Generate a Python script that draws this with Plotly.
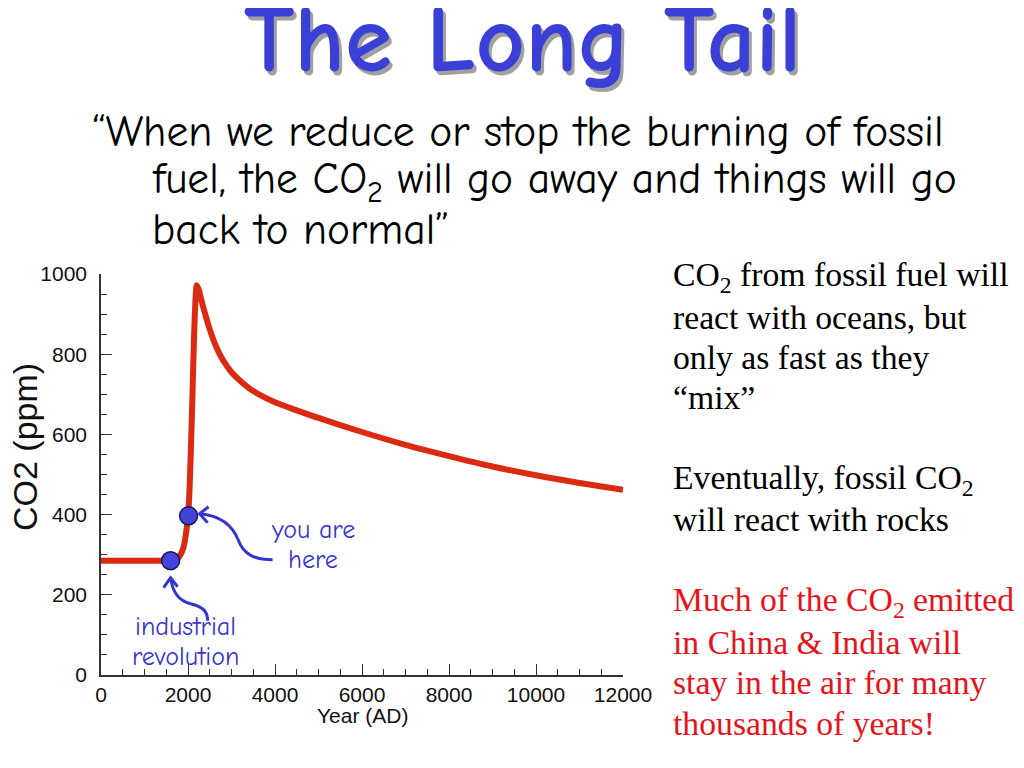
import plotly.graph_objects as go

# ---------------- data ----------------
years = [0, 500, 1000, 1500, 1600, 1700, 1750, 1800, 1850, 1900, 1950, 2000,
         2030, 2060, 2090, 2120, 2150, 2180, 2200, 2250, 2300, 2400,
         2500, 2650, 2800, 3000, 3250, 3500, 4000, 4500, 5000, 6000, 7000,
         8000, 9000, 10000, 11000, 12000]
co2 = [285, 285, 285, 285, 285, 287, 290, 295, 305, 320, 350, 395,
       450, 540, 650, 770, 880, 950, 972, 960, 938, 898,
       862, 818, 786, 755, 729, 708, 680, 660, 641, 606, 574,
       546, 520, 498, 479, 462]

event_years = [1600, 2013]
event_co2 = [285, 397]
event_labels = [["industrial", "revolution"], ["you are", "here"]]

x_ticks = [0, 2000, 4000, 6000, 8000, 10000, 12000]
y_ticks = [0, 200, 400, 600, 800, 1000]

# ---------------- layout geometry (page pixels) ----------------
OFF = 8                      # page body margin
W, H = 1024 - 2 * OFF, 768 - 2 * OFF
L, R, T, B = 101, 623, 274, 675
XMAX, YMAX = 12000, 1000


def px(xp):
    return (xp - L) / (R - L)


def py(yp):
    return (B - yp) / (B - T)


def off(xd, yd, dx, dy):
    """data point shifted by pixel offsets (dy positive = down)"""
    return xd + dx * XMAX / (R - L), yd - dy * YMAX / (B - T)


RED = "#dc2a12"
BLUE = "#3535d2"
AXC = "#333333"
SANS = "Liberation Sans, Arial"

fig = go.Figure()
fig.add_trace(go.Scatter(
    x=years, y=co2, mode="lines",
    line=dict(color=RED, width=6, shape="spline", smoothing=0.7),
    hoverinfo="skip", showlegend=False))
fig.add_trace(go.Scatter(
    x=event_years, y=event_co2, mode="markers",
    marker=dict(size=18, color="#4444d8", line=dict(color="#14145a", width=1.5)),
    showlegend=False))

axis_common = dict(
    showgrid=False, zeroline=False, showline=True, linecolor=AXC, linewidth=1.5,
    ticks="inside", ticklen=11, tickwidth=1.3, tickcolor=AXC,
    tickfont=dict(family=SANS, size=21, color="#111"),
)
fig.update_xaxes(range=[0, XMAX], tickvals=x_ticks, ticktext=[str(v) for v in x_ticks],
                 ticklabelstandoff=0,
                 minor=dict(ticks="inside", ticklen=6, tick0=0, dtick=500,
                            tickcolor=AXC, tickwidth=1.2),
                 **axis_common)
fig.update_yaxes(range=[0, YMAX], tickvals=y_ticks, ticktext=[str(v) for v in y_ticks],
                 ticklabelstandoff=8,
                 minor=dict(ticks="inside", ticklen=6, tick0=0, dtick=50,
                            tickcolor=AXC, tickwidth=1.2),
                 **axis_common)

# ---------------- curved arrows ----------------
def pathstr(pts, cmds):
    s = ""
    for c, group in zip(cmds, pts):
        s += c + " " + " ".join(f"{x:.2f},{y:.2f}" for x, y in group) + " "
    return s.strip()


shapes = []
xd, yd = event_years[1], event_co2[1]
P = lambda dx, dy: off(xd, yd, dx, dy)
curve = pathstr([[P(11, -2)], [P(35, 0), P(45, 12), P(50, 25)], [P(55, 38), P(65, 44), P(84, 44)]],
                ["M", "C", "C"])
head = pathstr([[P(20, -9)], [P(11, -2)], [P(19, 7)]], ["M", "L", "L"])
for p in (curve, head):
    shapes.append(dict(type="path", xref="x", yref="y", path=p,
                       line=dict(color=BLUE, width=3)))
xd, yd = event_years[0], event_co2[0]
P = lambda dx, dy: off(xd, yd, dx, dy)
curve = pathstr([[P(0, 17)], [P(2, 32), P(8, 40), P(20, 43)], [P(32, 46), P(37, 50), P(37, 60)]],
                ["M", "C", "C"])
head = pathstr([[P(-7, 27)], [P(0, 17)], [P(7, 26)]], ["M", "L", "L"])
for p in (curve, head):
    shapes.append(dict(type="path", xref="x", yref="y", path=p,
                       line=dict(color=BLUE, width=3)))

COMIC = "Comic Sans MS, Comic Neue, Noto Sans"
ann = []
# event labels (one annotation per line, placed relative to the dots)
label_pos = [(15, [-66, -96]), (124, [-14, -44])]
for (ex, ey, lines, (xs, ys)) in zip(event_years, event_co2, event_labels, label_pos):
    for line, yshift in zip(lines, ys):
        ann.append(dict(x=ex, y=ey, xref="x", yref="y", text=line, showarrow=False,
                        xshift=xs, yshift=yshift, xanchor="center", yanchor="middle",
                        font=dict(family=COMIC, size=26, color=BLUE)))

# axis titles
ann.append(dict(x=px(362), y=py(715), xref="paper", yref="paper", text="Year (AD)",
                showarrow=False, xanchor="center", yanchor="middle",
                font=dict(family=SANS, size=21, color="#111")))
ann.append(dict(x=px(25), y=py(447), xref="paper", yref="paper", text="CO2 (ppm)",
                showarrow=False, xanchor="center", yanchor="middle", textangle=-90,
                font=dict(family=SANS, size=34, color="#111")))

# title with shadow
for dx, dy, col in ((3, -4, "#a0a0a0"), (0, 0, "#3a3fd6")):
    ann.append(dict(x=px(522), y=py(40), xref="paper", yref="paper",
                    text="<b>The Long Tail</b>", showarrow=False,
                    xanchor="center", yanchor="middle",
                    xshift=dx, yshift=dy,
                    font=dict(family=COMIC, size=96, color=col)))

# quote
quote_lines = [("“When we reduce or stop the burning of fossil", 90, 132),
               ("fuel, the CO<sub>2</sub> will go away and things will go", 150, 182),
               ("back to normal”", 150, 230)]
for t, xl, yc in quote_lines:
    ann.append(dict(x=px(xl), y=py(yc), xref="paper", yref="paper", text=t,
                    showarrow=False, xanchor="left", yanchor="middle",
                    font=dict(family=COMIC, size=43.5, color="#000")))

# right-hand notes, one annotation per line
SERIF = "Liberation Serif, Times New Roman"
notes = [
    ("CO<sub>2</sub> from fossil fuel will", 277, "#000"),
    ("react with oceans, but", 317, "#000"),
    ("only as fast as they", 357, "#000"),
    ("“mix”", 397, "#000"),
    ("Eventually, fossil CO<sub>2</sub>", 480, "#000"),
    ("will react with rocks", 519, "#000"),
    ("Much of the CO<sub>2</sub> emitted", 602, "#e8121a"),
    ("in China &amp; India will", 642, "#e8121a"),
    ("stay in the air for many", 682, "#e8121a"),
    ("thousands of years!", 723, "#e8121a"),
]
for t, yc, col in notes:
    ann.append(dict(x=px(671), y=py(yc), xref="paper", yref="paper", text=t,
                    showarrow=False, xanchor="left", yanchor="middle", align="left",
                    font=dict(family=SERIF, size=33.7, color=col)))

fig.update_layout(
    width=W, height=H,
    margin=dict(l=L - OFF, r=W + OFF - R, t=T - OFF, b=H + OFF - B, autoexpand=False),
    paper_bgcolor="white", plot_bgcolor="white",
    shapes=shapes, annotations=ann, showlegend=False,
)

fig.write_html("out.html")
